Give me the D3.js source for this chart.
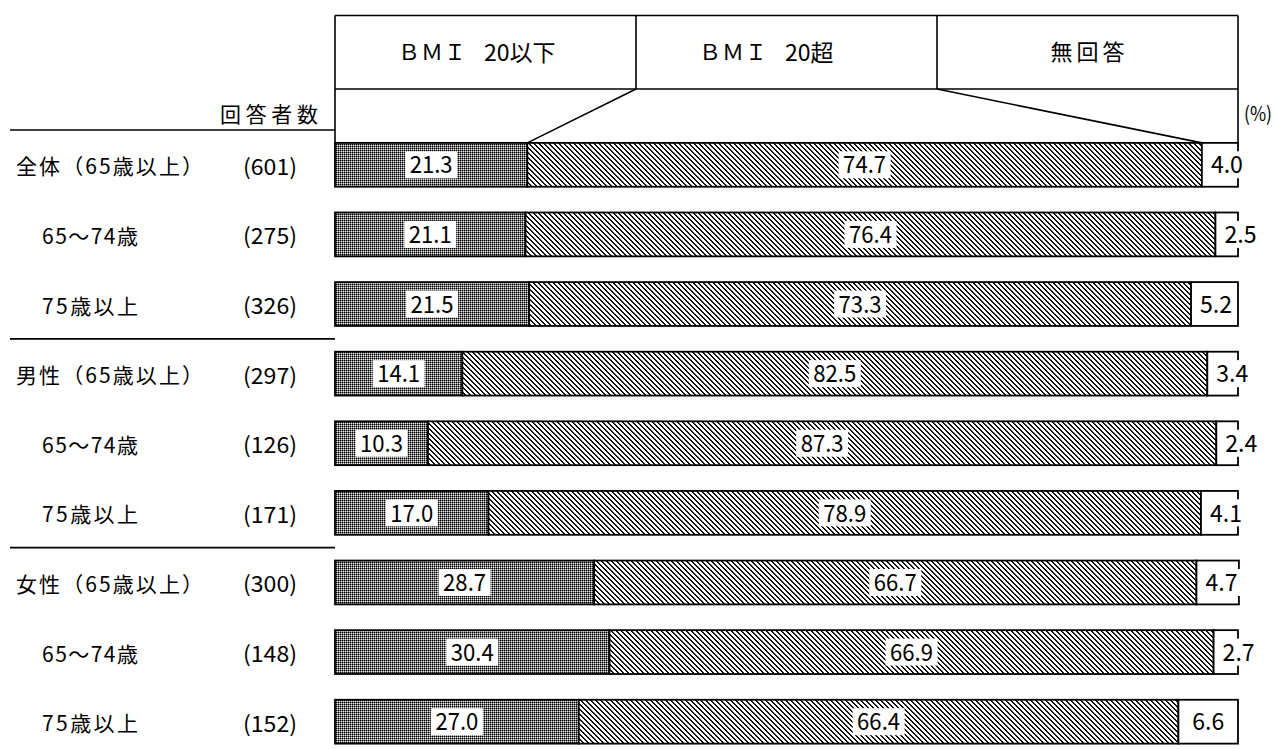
<!DOCTYPE html>
<html>
<head>
<meta charset="utf-8">
<script src="https://cdn.jsdelivr.net/npm/d3@7"></script>
<style>
  html, body { margin: 0; padding: 0; background: #fff; }
  svg { display: block; }
  text { font-family: "Noto Sans CJK JP", "Noto Sans", sans-serif; fill: #000; }
</style>
</head>
<body>
<svg id="chart" width="1277" height="749"></svg>
<script>
// Row categories (group rows followed by their age sub-rows)
const categories = [
  "全体（65歳以上）", "65～74歳", "75歳以上",
  "男性（65歳以上）", "65～74歳", "75歳以上",
  "女性（65歳以上）", "65～74歳", "75歳以上"
];
const respondents = [601, 275, 326, 297, 126, 171, 300, 148, 152];

// Percentages per series
const bmiLow   = [21.3, 21.1, 21.5, 14.1, 10.3, 17.0, 28.7, 30.4, 27.0];
const bmiHigh  = [74.7, 76.4, 73.3, 82.5, 87.3, 78.9, 66.7, 66.9, 66.4];
const noAnswer = [4.0, 2.5, 5.2, 3.4, 2.4, 4.1, 4.7, 2.7, 6.6];

const seriesNames = ["ＢＭＩ　20以下", "ＢＭＩ　20超", "無回答"];
const headerTitle = "回答者数";
const unitLabel = "(%)";

const svg = d3.select("#chart");
const defs = svg.append("defs");

// Fine dotted grey fill for the first series
const dots = defs.append("pattern")
  .attr("id", "dots").attr("patternUnits", "userSpaceOnUse")
  .attr("width", 2).attr("height", 2);
dots.append("rect").attr("width", 2).attr("height", 2).attr("fill", "#707070");
dots.append("rect").attr("x", 0).attr("y", 0).attr("width", 1).attr("height", 1).attr("fill", "#000");
dots.append("rect").attr("x", 1).attr("y", 1).attr("width", 1).attr("height", 1).attr("fill", "#e8e8e8");

// Diagonal "\" hatching for the second series, built pixel by pixel
const hatchSize = 5;
const hatch = defs.append("pattern")
  .attr("id", "hatch").attr("patternUnits", "userSpaceOnUse")
  .attr("width", hatchSize).attr("height", hatchSize);
hatch.append("rect").attr("width", hatchSize).attr("height", hatchSize).attr("fill", "#fff");
for (let i = 0; i < hatchSize; i++) {
  hatch.append("rect").attr("x", i).attr("y", i).attr("width", 1).attr("height", 1).attr("fill", "#000");
  hatch.append("rect").attr("x", (i + 1) % hatchSize).attr("y", i).attr("width", 1).attr("height", 1).attr("fill", "#222");
}

const fills = ["url(#dots)", "url(#hatch)", "#ffffff"];

// Scales
const x = d3.scaleLinear().domain([0, 100]).range([335, 1238]);
const y = d3.scaleBand()
  .domain(d3.range(categories.length))
  .range([130, 756.5])
  .paddingInner(0.37)
  .paddingOuter(0.185);
const head = d3.scaleBand().domain(seriesNames).range(x.range());

const headTop = 15.5, headMid = 89;
const barTop0 = y(0);
const gap = (y.step() - y.bandwidth()) / 2;

// Header box
const hg = svg.append("g").attr("stroke", "#000").attr("stroke-width", 1.6).attr("fill", "none");
hg.append("line").attr("x1", x(0)).attr("x2", x(100)).attr("y1", headTop).attr("y2", headTop);
hg.append("line").attr("x1", x(0)).attr("x2", x(100)).attr("y1", headMid).attr("y2", headMid);
hg.append("line").attr("x1", x(0)).attr("x2", x(0)).attr("y1", headTop).attr("y2", barTop0);
hg.append("line").attr("x1", x(100)).attr("x2", x(100)).attr("y1", headTop).attr("y2", barTop0);
seriesNames.slice(1).forEach(s => {
  hg.append("line").attr("x1", head(s)).attr("x2", head(s)).attr("y1", headTop).attr("y2", headMid);
});

// Leader lines from header columns to the first bar's segment boundaries
hg.append("line")
  .attr("x1", head(seriesNames[1])).attr("y1", headMid)
  .attr("x2", x(bmiLow[0])).attr("y2", barTop0);
hg.append("line")
  .attr("x1", head(seriesNames[2])).attr("y1", headMid)
  .attr("x2", x(bmiLow[0] + bmiHigh[0])).attr("y2", barTop0);

// Header labels: each title is split at the full-width space so the
// "ＢＭＩ" part can be set with wide letter spacing.
const headY = (headTop + headMid) / 2;
const hl = svg.append("g").attr("font-size", 22);
seriesNames.forEach((name, i) => {
  const colX = head(name);
  const parts = name.split("　");
  if (parts.length === 2) {
    hl.append("text")
      .attr("x", colX + 63).attr("y", headY).attr("dy", "0.36em")
      .attr("textLength", 68).attr("lengthAdjust", "spacing")
      .text(parts[0]);
    hl.append("text")
      .attr("x", colX + 149).attr("y", headY).attr("dy", "0.36em")
      .attr("font-size", 23)
      .text(parts[1]);
  } else {
    hl.append("text")
      .attr("x", colX + head.bandwidth() / 2 - 37).attr("y", headY).attr("dy", "0.36em")
      .attr("textLength", 74).attr("lengthAdjust", "spacing")
      .text(name);
  }
});

svg.append("text")
  .attr("x", 220).attr("y", 114).attr("dy", "0.36em")
  .attr("font-size", 21)
  .attr("textLength", 98).attr("lengthAdjust", "spacing")
  .text(headerTitle);

svg.append("text")
  .attr("x", 1244).attr("y", 114).attr("dy", "0.36em")
  .attr("font-size", 20)
  .attr("textLength", 28).attr("lengthAdjust", "spacingAndGlyphs")
  .text(unitLabel);

// Group separator lines on the left
const sepRows = d3.range(0, categories.length, 3);
svg.append("g").attr("stroke", "#000").attr("stroke-width", 1.6)
  .selectAll("line").data(sepRows).join("line")
  .attr("x1", 10).attr("x2", x(0))
  .attr("y1", i => y(i) - gap).attr("y2", i => y(i) - gap);

// Row labels and respondent counts
const rowMid = i => y(i) + y.bandwidth() / 2;
const labels = svg.append("g");
labels.selectAll("text.cat").data(categories).join("text")
  .attr("class", "cat")
  .attr("x", (d, i) => i % 3 === 0 ? 16 : 42)
  .attr("y", (d, i) => rowMid(i) + 2)
  .attr("dy", "0.36em")
  .attr("font-size", 21)
  .attr("textLength", (d, i) => i % 3 === 0 ? 187 : 96)
  .attr("lengthAdjust", "spacing")
  .text(d => d);

labels.selectAll("text.n").data(respondents).join("text")
  .attr("class", "n")
  .attr("x", 243)
  .attr("y", (d, i) => rowMid(i) + 2)
  .attr("dy", "0.36em")
  .attr("font-size", 22)
  .attr("textLength", 54)
  .attr("lengthAdjust", "spacingAndGlyphs")
  .text(d => `(${d})`);

// Stacked bars
const rows = categories.map((c, i) => ({ i, low: bmiLow[i], high: bmiHigh[i], na: noAnswer[i] }));
const keys = ["low", "high", "na"];
const stacked = d3.stack().keys(keys)(rows);

const bars = svg.append("g");
stacked.forEach((layer, k) => {
  bars.append("g").selectAll("rect").data(layer).join("rect")
    .attr("x", d => x(d[0]))
    .attr("y", d => y(d.data.i))
    .attr("width", d => x(d[1]) - x(d[0]))
    .attr("height", y.bandwidth())
    .attr("fill", fills[k])
    .attr("stroke", "#000")
    .attr("stroke-width", 1.8);
});

// Value labels in white boxes
const fmt = d3.format(".1f");
const charW = 11;
const vg = svg.append("g");
stacked.forEach((layer, k) => {
  layer.forEach(d => {
    const txt = fmt(d[1] - d[0]);
    const tw = charW * txt.length - 1;
    const x0 = x(d[0]), x1 = x(d[1]);
    let cx = (x0 + x1) / 2;
    if (k === 2) cx = Math.max(cx, x0 + 25);
    const cy = rowMid(d.data.i);
    vg.append("rect")
      .attr("x", cx - tw / 2 - 4.5).attr("y", cy - 13.5)
      .attr("width", tw + 9).attr("height", 27)
      .attr("fill", "#fff");
    vg.append("text")
      .attr("x", cx - tw / 2).attr("y", cy)
      .attr("dy", "0.36em")
      .attr("font-size", 24)
      .attr("textLength", tw)
      .attr("lengthAdjust", "spacingAndGlyphs")
      .text(txt);
  });
});
</script>
</body>
</html>
